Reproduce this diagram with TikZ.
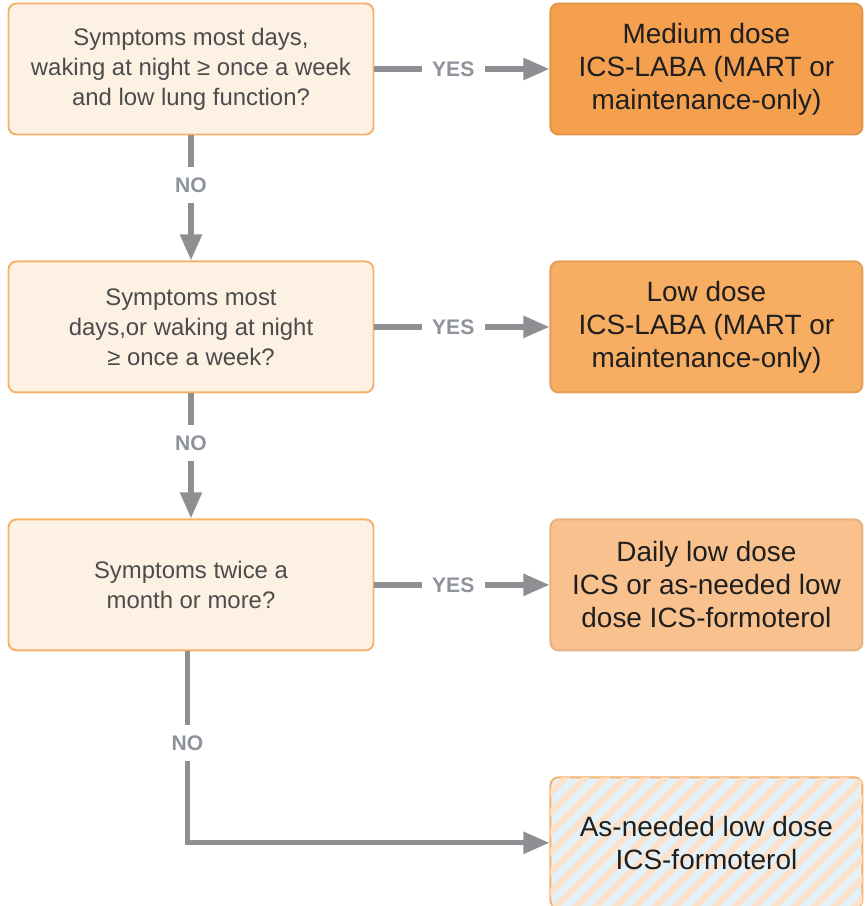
\documentclass[tikz,border=0pt]{standalone}
\usepackage{fontspec}
\setmainfont{Liberation Sans}
\usetikzlibrary{positioning,arrows.meta,patterns.meta}
\definecolor{qfill}{HTML}{FDF1E4}
\definecolor{qline}{HTML}{F6B06A}
\definecolor{amed}{HTML}{F5A04E}
\definecolor{alow}{HTML}{F7AD62}
\definecolor{adaily}{HTML}{F9C18D}
\definecolor{stripeblue}{HTML}{E3F1F9}
\definecolor{stripepeach}{HTML}{FCE2CB}
\definecolor{flowgray}{HTML}{8D8F93}
\definecolor{labgray}{HTML}{8E939B}
\begin{document}
\begin{tikzpicture}[
    node distance=2.5cm and 3.5cm,
    question/.style={draw=qline,fill=qfill,line width=1.1pt,rounded corners=0.16cm,
        minimum width=7.3cm,minimum height=2.62cm,align=center,
        font=\fontsize{13.6}{17}\selectfont,text=black!70},
    answer/.style={draw=#1!92!black,fill=#1,line width=1.1pt,rounded corners=0.16cm,
        minimum width=6.24cm,minimum height=2.62cm,align=center,
        font=\fontsize{15.9}{18.8}\selectfont,text=black!88},
    flow/.style={draw=flowgray,line width=3pt,-{Triangle[length=0.52cm,width=0.42cm]}},
    choice/.style={fill=white,text=labgray,font=\fontsize{12}{13}\selectfont\bfseries,inner sep=6pt}
]
\useasboundingbox (0,0) rectangle (17.34,-18.12);
\node [question] (q1) at (3.82,-1.38) {Symptoms most days,\\waking at night ≥ once a week\\and low lung function?};
\node [question] (q2) [below=of q1] {Symptoms most\\days,or waking at night\\≥ once a week?};
\node [question] (q3) [below=of q2] {Symptoms twice a\\month or more?};
\node [answer=amed] (a1) [right=of q1] {Medium dose\\ICS-LABA (MART or\\maintenance-only)};
\node [answer=alow] (a2) [right=of q2] {Low dose\\ICS-LABA (MART or\\maintenance-only)};
\node [answer=adaily] (a3) [right=of q3] {Daily low dose\\ICS or as-needed low\\dose ICS-formoterol};
\node [answer=stripeblue,draw=qline,
       postaction={pattern={Lines[angle=45,distance=8pt,line width=3.6pt]},pattern color=stripepeach}]
      (a4) [below=of a3] {As-needed low dose\\ICS-formoterol};

\draw [flow] (q1) -- node[choice,pos=0.45] {YES} (a1);
\draw [flow] (q2) -- node[choice,pos=0.45] {YES} (a2);
\draw [flow] (q3) -- node[choice,pos=0.45] {YES} (a3);
\draw [flow] (q1) -- node[choice,pos=0.4] {NO} (q2);
\draw [flow] (q2) -- node[choice,pos=0.4] {NO} (q3);
\draw [flow] ([xshift=-2pt]q3.south) |- node[choice,pos=0.24] {NO} (a4.west);
\end{tikzpicture}
\end{document}
